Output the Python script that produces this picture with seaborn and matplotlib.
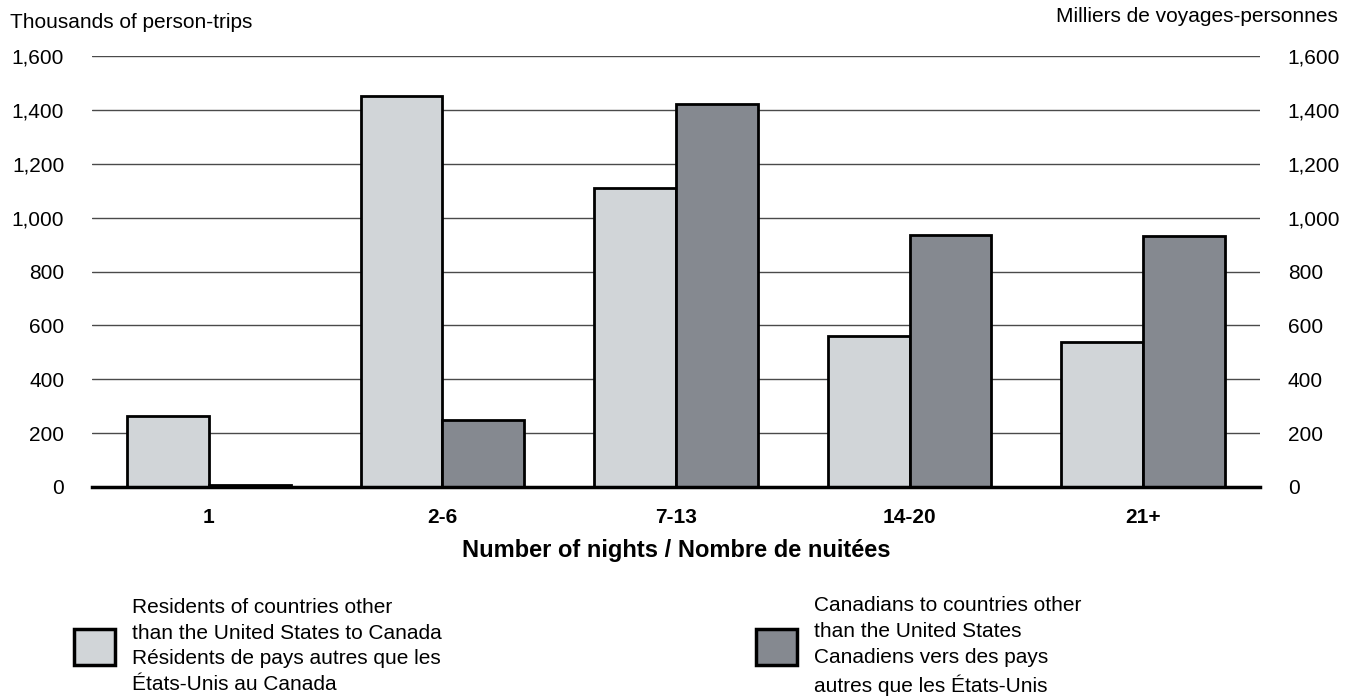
import pandas as pd
import seaborn as sns
import matplotlib.pyplot as plt
from matplotlib.patches import Patch

nights = ["1", "2-6", "7-13", "14-20", "21+"]
overseas_to_canada = [264, 1451, 1110, 560, 538]
canadians_overseas = [8, 249, 1422, 935, 932]

lab_a = "Residents of countries other\nthan the United States to Canada\nRésidents de pays autres que les\nÉtats-Unis au Canada"
lab_b = "Canadians to countries other\nthan the United States\nCanadiens vers des pays\nautres que les États-Unis"
col_a, col_b = "#d1d5d8", "#858990"

df = pd.DataFrame({
    "nights": nights * 2,
    "trips": overseas_to_canada + canadians_overseas,
    "group": ["a"] * 5 + ["b"] * 5,
})

sns.set_style("white")
plt.rcParams["font.family"] = ["Liberation Sans", "DejaVu Sans"]
plt.rcParams["text.color"] = "black"
plt.rcParams["axes.labelcolor"] = "black"

fig = plt.figure(figsize=(13.53, 6.98), dpi=100)
ax = fig.add_axes([92 / 1353, 1 - 487 / 698, 1168 / 1353, 431 / 698])

sns.barplot(data=df, x="nights", y="trips", hue="group", order=nights,
            palette={"a": col_a, "b": col_b}, width=0.7, gap=0,
            edgecolor="black", linewidth=2, saturation=1, legend=False, ax=ax)

ax.set_ylim(0, 1600)
ax.set_xlim(-0.5, 4.5)
ticks = list(range(0, 1601, 200))
ax.set_yticks(ticks)
ax.set_yticklabels([f"{t:,}" for t in ticks])
ax.yaxis.grid(True, color="#4a4a4a", linewidth=1)
ax.set_axisbelow(True)
for s in ["top", "right", "left"]:
    ax.spines[s].set_visible(False)
ax.spines["bottom"].set_color("black")
ax.spines["bottom"].set_linewidth(2.5)
ax.tick_params(axis="both", length=0, labelsize=15, colors="black")
ax.tick_params(axis="y", pad=20, labelright=True)
for lbl in ax.get_xticklabels():
    lbl.set_fontweight("bold")
ax.tick_params(axis="x", pad=15)
ax.set_ylabel("")
ax.set_xlabel("Number of nights / Nombre de nuitées", fontsize=17,
              fontweight="bold", labelpad=9)

fig.text(10 / 1353, 1 - 22 / 698, "Thousands of person-trips", fontsize=15, va="center")
fig.text(1338 / 1353, 1 - 17 / 698, "Milliers de voyages-personnes", fontsize=15,
         va="center", ha="right")

for col, lab, x0 in [(col_a, lab_a, 55), (col_b, lab_b, 737)]:
    leg = fig.legend(handles=[Patch(facecolor=col, edgecolor="black", linewidth=2.5, label=lab)],
                     loc="center left", bbox_to_anchor=(x0 / 1353, 1 - 646 / 698), frameon=False,
                     fontsize=15, handlelength=2.0, handleheight=2.3, handletextpad=0.8)
    for t in leg.get_texts():
        t.set_linespacing(1.45)

fig.savefig("out.png", dpi=100)
